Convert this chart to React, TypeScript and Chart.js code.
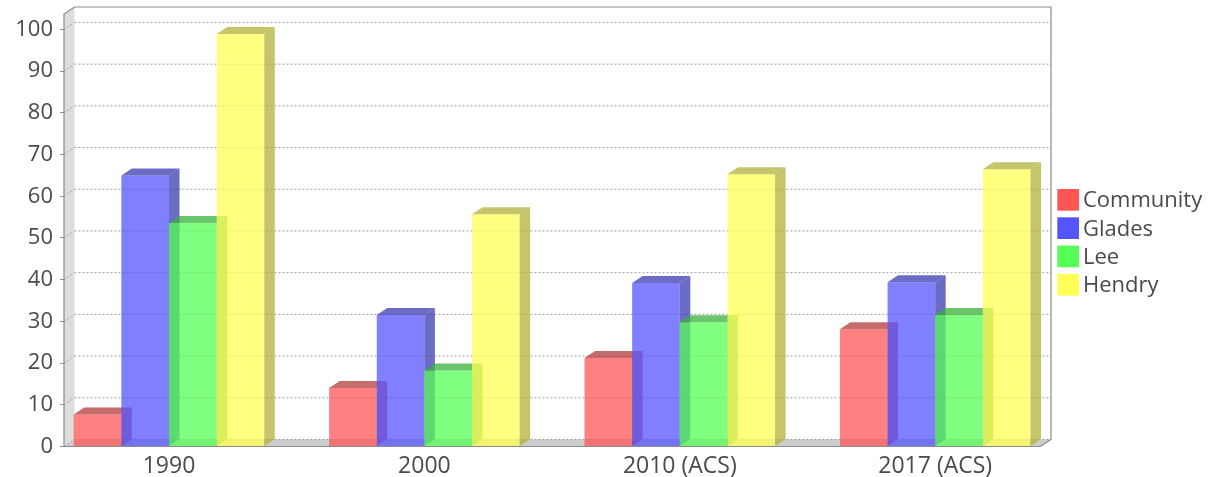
import React, { useEffect, useRef } from "react";
import { Chart, registerables, CategoryScale } from "chart.js";

const categories = ["1990", "2000", "2010 (ACS)", "2017 (ACS)"];
const community = [7.7, 14, 21.2, 28.1];
const glades = [65, 31.5, 39.2, 39.4];
const lee = [53.6, 18.2, 29.8, 31.5];
const hendry = [98.9, 55.7, 65.3, 66.5];
const seriesNames = ["Community", "Glades", "Lee", "Hendry"];
const seriesValues = [community, glades, lee, hendry];
const seriesRGB = [
  [255, 85, 85],
  [85, 85, 255],
  [85, 255, 85],
  [255, 255, 85],
];

const DX = 10.5;
const DY = 7;
const AREA_LEFT = 64;
const AREA_WIDTH = 976.5;
const CAT_STEP = 255.4;
const FIRST_CENTER = 169;
const TEXT = "#4a4a4a";
const FONT = "'Open Sans'";

class GapCategoryScale extends CategoryScale {
  static id = "gapCategory";
  static defaults = CategoryScale.defaults;
  configure() {
    super.configure();
    (this as any)._startValue = -(FIRST_CENTER - AREA_LEFT) / CAT_STEP;
    (this as any)._valueRange = AREA_WIDTH / CAT_STEP;
    (this as any)._endValue = (this as any)._startValue + (this as any)._valueRange;
  }
}
Chart.register(...registerables, GapCategoryScale);

const poly = (ctx: CanvasRenderingContext2D, pts: number[][], fill: string) => {
  ctx.beginPath();
  pts.forEach(([x, y], i) => (i ? ctx.lineTo(x, y) : ctx.moveTo(x, y)));
  ctx.closePath();
  ctx.fillStyle = fill;
  ctx.fill();
};

const line = (ctx: CanvasRenderingContext2D, x1: number, y1: number, x2: number, y2: number) => {
  ctx.beginPath();
  ctx.moveTo(x1, y1);
  ctx.lineTo(x2, y2);
  ctx.stroke();
};

const box3d = {
  id: "box3d",
  beforeDatasetsDraw(chart: any) {
    const { ctx, chartArea: a, scales } = chart;
    const { left: l, right: r, top: t, bottom: b } = a;
    ctx.save();
    // walls
    poly(ctx, [[l, b], [l, t], [l + DX, t - DY], [l + DX, b - DY]], "#dddddd");
    poly(ctx, [[l, b], [l + DX, b - DY], [r + DX, b - DY], [r, b]], "#cccccc");
    // grid on the back wall and the left wall
    ctx.strokeStyle = "#a0a0a0";
    ctx.lineWidth = 1;
    ctx.setLineDash([2, 2]);
    scales.y.ticks.forEach((tick: any) => {
      const y = scales.y.getPixelForValue(tick.value);
      line(ctx, l, y, l + DX, y - DY);
      line(ctx, l + DX, y - DY, r + DX, y - DY);
    });
    ctx.setLineDash([]);
    // outline
    ctx.strokeStyle = "#8c8c8c";
    ctx.lineWidth = 1.2;
    ctx.beginPath();
    ctx.moveTo(l, b);
    ctx.lineTo(l, t);
    ctx.lineTo(l + DX, t - DY);
    ctx.lineTo(r + DX, t - DY);
    ctx.lineTo(r + DX, b - DY);
    ctx.lineTo(r, b);
    ctx.lineTo(l, b);
    ctx.stroke();
    // bars: first series first, each with its side and top faces
    chart.data.datasets.forEach((ds: any, i: number) => {
      const meta = chart.getDatasetMeta(i);
      const [cr, cg, cb] = seriesRGB[i];
      const dark = `rgba(${Math.floor(cr * 0.7)},${Math.floor(cg * 0.7)},${Math.floor(cb * 0.7)},0.75)`;
      meta.data.forEach((bar: any) => {
        const x1 = bar.x - bar.width / 2;
        const x2 = bar.x + bar.width / 2;
        bar.draw(ctx, a);
        poly(ctx, [[x2, bar.y], [x2 + DX, bar.y - DY], [x2 + DX, bar.base - DY], [x2, bar.base]], dark);
        poly(ctx, [[x1, bar.y], [x1 + DX, bar.y - DY], [x2 + DX, bar.y - DY], [x2, bar.y]], dark);
      });
    });
    ctx.restore();
    return false;
  },
  afterDraw(chart: any) {
    const { ctx } = chart;
    ctx.save();
    ctx.font = `22px ${FONT}`;
    ctx.textBaseline = "middle";
    ctx.textAlign = "left";
    seriesNames.forEach((name, i) => {
      const y = 189 + i * 28.3;
      ctx.fillStyle = `rgb(${seriesRGB[i].join(",")})`;
      ctx.fillRect(1057.3, y, 21.7, 21.7);
      ctx.fillStyle = TEXT;
      ctx.fillText(name, 1083, y + 12);
    });
    ctx.restore();
  },
};

export default function App() {
  const ref = useRef<HTMLCanvasElement>(null);
  useEffect(() => {
    const chart = new Chart(ref.current!, {
      type: "bar",
      data: {
        labels: categories,
        datasets: seriesNames.map((name, i) => ({
          label: name,
          data: seriesValues[i],
          backgroundColor: `rgba(${seriesRGB[i].join(",")},0.75)`,
          borderWidth: 0,
          categoryPercentage: 190.6 / CAT_STEP,
          barPercentage: 1,
        })),
      },
      options: {
        responsive: false,
        animation: false,
        events: [],
        layout: { padding: { top: 14, right: 182.5, left: 0, bottom: 0 } },
        plugins: { legend: { display: false }, tooltip: { enabled: false } },
        scales: {
          x: {
            type: "gapCategory" as any,
            grid: { display: false, drawTicks: false },
            border: { display: false },
            ticks: {
              color: TEXT,
              font: { family: FONT, size: 23 },
              padding: 6,
              maxRotation: 0,
              autoSkip: false,
            },
            afterFit: (s: any) => {
              s.height = 30.5;
              s.paddingLeft = 0;
              s.paddingRight = 0;
            },
          },
          y: {
            min: 0,
            max: 103.7,
            grid: { drawOnChartArea: false, drawTicks: true, tickLength: 4, tickColor: "#8c8c8c" },
            border: { display: false },
            ticks: {
              stepSize: 10,
              includeBounds: false,
              color: TEXT,
              font: { family: FONT, size: 22 },
              padding: 7,
            },
            afterFit: (s: any) => {
              s.width = 64;
              s.paddingTop = 0;
              s.paddingBottom = 0;
            },
          },
        },
      },
      plugins: [box3d],
    } as any);
    return () => chart.destroy();
  }, []);
  return (
    <div style={{ position: "absolute", left: 0, top: 0, width: 1223, height: 477, background: "#fff" }}>
      <canvas ref={ref} width={1223} height={477} style={{ display: "block" }} />
    </div>
  );
}
